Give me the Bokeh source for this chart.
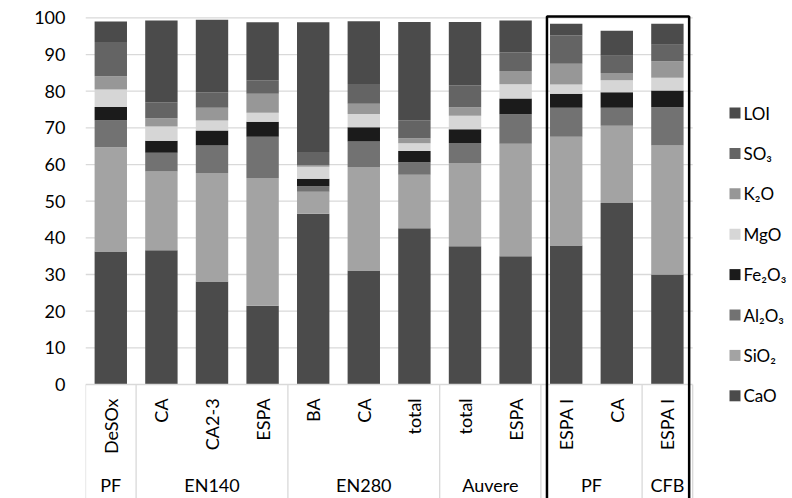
import math
from bokeh.plotting import figure
from bokeh.models import ColumnDataSource, Range1d, FixedTicker, Label
from bokeh.core.properties import value
from bokeh.embed import file_html
from bokeh.resources import INLINE

# ---- data ----
categories = ["DeSOx", "CA", "CA2-3", "ESPA", "BA", "CA", "total", "total", "ESPA", "ESPA I", "CA", "ESPA I"]
groups = ["PF", "EN140", "EN140", "EN140", "EN280", "EN280", "EN280", "Auvere", "Auvere", "PF", "PF", "CFB"]

CaO = [36.3, 36.6, 28.1, 21.5, 46.6, 31.1, 42.6, 37.7, 35.0, 37.9, 49.5, 30.0]
SiO2 = [28.4, 21.5, 29.6, 34.8, 6.0, 28.2, 14.6, 22.7, 30.7, 29.7, 21.1, 35.2]
Al2O3 = [7.4, 5.1, 7.5, 11.3, 1.5, 7.0, 3.4, 5.5, 8.0, 7.9, 4.9, 10.4]
Fe2O3 = [3.6, 3.3, 4.1, 4.1, 2.0, 3.9, 3.1, 3.7, 4.3, 3.8, 4.2, 4.6]
MgO = [4.8, 3.9, 2.7, 2.4, 3.3, 3.6, 2.1, 3.7, 3.9, 2.5, 3.3, 3.5]
K2O = [3.6, 2.2, 3.5, 5.2, 0.5, 2.8, 1.4, 2.3, 3.6, 5.7, 2.0, 4.5]
SO3 = [9.3, 4.4, 4.2, 3.7, 3.5, 5.4, 4.9, 6.0, 5.1, 7.8, 4.7, 4.5]
LOI = [5.6, 22.3, 19.8, 15.8, 35.4, 17.1, 26.8, 17.3, 8.7, 3.1, 6.8, 5.7]

series_keys = ["CaO", "SiO2", "Al2O3", "Fe2O3", "MgO", "K2O", "SO3", "LOI"]
series_labels = ["CaO", "SiO₂", "Al₂O₃", "Fe₂O₃", "MgO", "K₂O", "SO₃", "LOI"]
series_colors = ["#4b4b4b", "#a3a3a3", "#727272", "#1b1b1b", "#d6d6d6", "#979797", "#646464", "#4b4b4b"]

y_ticks = [0, 10, 20, 30, 40, 50, 60, 70, 80, 90, 100]
highlight_groups = (9, 12)  # bar index range framed by the black box

# ---- layout constants ----
FONT = "Lato"
PX_PER_BAR = 50.6
PX_PER_UNIT = 3.666
n = len(categories)

xs = [i + 0.5 for i in range(n)]
src = ColumnDataSource(dict(x=xs, CaO=CaO, SiO2=SiO2, Al2O3=Al2O3, Fe2O3=Fe2O3,
                            MgO=MgO, K2O=K2O, SO3=SO3, LOI=LOI))

W, H = 792, 498
left_border, top_border = 85, 12
frame_w = W - left_border
frame_h = H - top_border
y_top = (384 - top_border) / PX_PER_UNIT
y_bot = y_top - frame_h / PX_PER_UNIT

p = figure(width=W, height=H, output_backend="svg", toolbar_location=None,
           x_range=Range1d(0, frame_w / PX_PER_BAR), y_range=Range1d(y_bot, y_top),
           x_axis_location=None, min_border_left=left_border, min_border_right=0,
           min_border_top=top_border, min_border_bottom=0)
p.outline_line_color = None
p.xgrid.visible = False
p.ygrid.visible = False

yax = p.yaxis[0]
yax.ticker = FixedTicker(ticks=y_ticks)
yax.axis_line_color = None
yax.major_tick_line_color = None
yax.minor_tick_line_color = None
yax.major_tick_out = 0
yax.major_tick_in = 0
yax.major_label_standoff = 20
yax.major_label_text_font = FONT
yax.major_label_text_font_size = "18px"
yax.major_label_text_color = "black"

GRID = "#d9d9d9"
# gridlines
gy = [t for t in y_ticks if t > 0]
p.segment(x0=[0] * len(gy), x1=[n] * len(gy), y0=gy, y1=gy, line_color=GRID, line_width=1.3)

# bars
p.vbar_stack(series_keys, x="x", width=0.64, color=series_colors, source=src, line_color=None)

# category axis: base line
p.segment(x0=[0], x1=[n], y0=[0], y1=[0], line_color=GRID, line_width=1.3)

# group runs
runs = []
start = 0
for i in range(1, n + 1):
    if i == n or groups[i] != groups[start]:
        runs.append((groups[start], start, i))
        start = i
bounds = sorted(set([r[1] for r in runs] + [n]))
p.segment(x0=bounds, x1=bounds, y0=[0] * len(bounds), y1=[y_bot - 5] * len(bounds),
          line_color=GRID, line_width=1.3)

# item labels (rotated)
p.text(x=xs, y=[-3.8] * n, text=categories, angle=math.pi / 2,
       text_align="right", text_baseline="middle",
       text_font=value(FONT), text_font_size=value("18px"), text_color="black")

# group labels
p.text(x=[(r[1] + r[2]) / 2 for r in runs], y=[-27.3] * len(runs), text=[r[0] for r in runs],
       text_align="center", text_baseline="middle",
       text_font=value(FONT), text_font_size=value("18px"), text_color="black")

# black frame around the PF/CFB block
hl, hr = highlight_groups
p.quad(left=[hl + 0.12], right=[hr - 0.07], top=[100.4], bottom=[y_bot - 10],
       fill_color=None, line_color="black", line_width=2.5)

# % label
p.add_layout(Label(x=-1.38, y=54.8, text="%", angle=math.pi / 2,
                   text_align="center", text_baseline="middle",
                   text_font=FONT, text_font_size="18px", text_color="black"))

# legend (manual, top = last series)
leg_x = (734.5 - 85) / PX_PER_BAR
leg_y0 = (384 - 112.5) / PX_PER_UNIT
leg_step = 40.4 / PX_PER_UNIT
order = list(range(len(series_keys)))[::-1]
ly = [leg_y0 - k * leg_step for k in range(len(order))]
p.rect(x=[leg_x] * len(order), y=ly, width=11, height=11, width_units="screen", height_units="screen",
       fill_color=[series_colors[j] for j in order], line_color=None)
p.text(x=[leg_x + 8.5 / PX_PER_BAR] * len(order), y=ly, text=[series_labels[j] for j in order],
       text_align="left", text_baseline="middle",
       text_font=value(FONT), text_font_size=value("17px"), text_color="black")

open("out.html", "w").write(file_html(p, INLINE))
